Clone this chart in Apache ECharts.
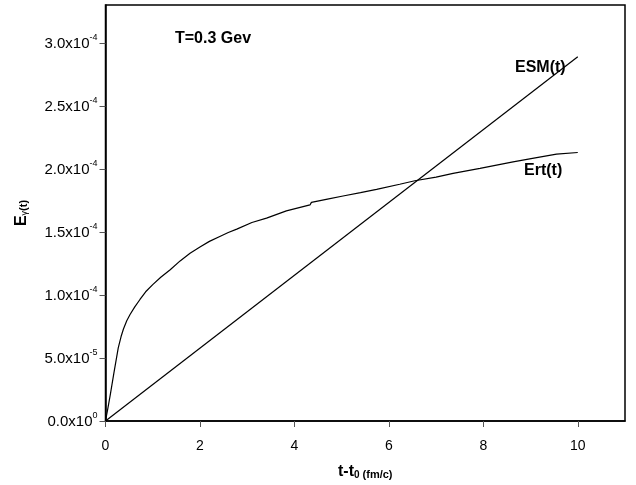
<!DOCTYPE html>
<html>
<head>
<meta charset="utf-8">
<script src="https://cdn.jsdelivr.net/npm/echarts@6/dist/echarts.min.js"></script>
<style>html,body{margin:0;padding:0;background:#fff;}#c{width:636px;height:485px;}</style>
</head>
<body>
<div id="c"></div>
<script>
// Data
const ertT = [0, 0.05, 0.1, 0.18, 0.27, 0.33, 0.38, 0.45, 0.52, 0.62, 0.73, 0.85, 1.0, 1.17, 1.37, 1.58, 1.79, 2.0, 2.2, 2.42, 2.6, 2.78, 2.8, 3.1, 3.41, 3.83, 4.33, 4.36, 4.7, 5.03, 5.4, 5.74, 6.23, 6.55, 7.0, 7.36, 7.93, 8.63, 9.1, 9.55, 10.0];
const ertV = [0, 1.0e-5, 2.05e-5, 3.85e-5, 5.8e-5, 6.7e-5, 7.3e-5, 7.95e-5, 8.45e-5, 9.05e-5, 9.64e-5, 1.025e-4, 1.082e-4, 1.14e-4, 1.2e-4, 1.27e-4, 1.33e-4, 1.38e-4, 1.425e-4, 1.464e-4, 1.495e-4, 1.522e-4, 1.535e-4, 1.575e-4, 1.609e-4, 1.667e-4, 1.714e-4, 1.734e-4, 1.76e-4, 1.785e-4, 1.812e-4, 1.838e-4, 1.878e-4, 1.906e-4, 1.935e-4, 1.965e-4, 2.004e-4, 2.056e-4, 2.088e-4, 2.117e-4, 2.13e-4];
const esmT = [0, 10];
const esmV = [0, 2.89e-4];
const xTicks = [0, 2, 4, 6, 8, 10];
const yTicks = [0, 5e-5, 1e-4, 1.5e-4, 2e-4, 2.5e-4, 3e-4];
const yTickMantissa = ['0.0', '5.0', '1.0', '1.5', '2.0', '2.5', '3.0'];
const yTickExponent = ['0', '-5', '-4', '-4', '-4', '-4', '-4'];

const FONT = '"Liberation Sans", Arial, sans-serif';
const chart = echarts.init(document.getElementById('c'), null, {renderer: 'canvas'});

function yLabel(v) {
  let best = 0, d = Infinity;
  yTicks.forEach((t, i) => { const dd = Math.abs(t - v); if (dd < d) { d = dd; best = i; } });
  return '{m|' + yTickMantissa[best] + 'x10}{e|' + yTickExponent[best] + '}';
}

chart.setOption({
  animation: false,
  backgroundColor: '#fff',
  grid: {left: 105.5, top: 5, right: 11, bottom: 63, show: true, borderColor: '#000', borderWidth: 1.5, backgroundColor: 'transparent'},
  xAxis: {
    type: 'value', min: 0, max: 11, interval: 1,
    name: '{a|t-t}{s|0}{b| (fm/c)}',
    nameLocation: 'middle', nameGap: 41,
    nameTextStyle: {
      fontFamily: FONT,
      rich: {
        a: {fontSize: 16, fontWeight: 'bold', fontFamily: FONT, color: '#000', verticalAlign: 'bottom', lineHeight: 18},
        s: {fontSize: 10, fontWeight: 'bold', fontFamily: FONT, color: '#000', verticalAlign: 'bottom', lineHeight: 14},
        b: {fontSize: 11, fontWeight: 'bold', fontFamily: FONT, color: '#000', verticalAlign: 'bottom', lineHeight: 16}
      }
    },
    axisLine: {show: true, onZero: false, lineStyle: {color: '#000', width: 1.5}},
    axisTick: {show: true, inside: false, length: 6, lineStyle: {color: '#555', width: 1}, customValues: xTicks},
    axisLabel: {show: true, margin: 18, fontSize: 14, color: '#000', fontFamily: FONT, customValues: xTicks},
    splitLine: {show: false}
  },
  yAxis: {
    type: 'value', min: 0, max: 3.3e-4, interval: 5e-5,
    name: '{a|E}{s|γ}{b|(t)}',
    nameLocation: 'middle', nameGap: 76, nameRotate: 90,
    nameTextStyle: {
      fontFamily: FONT,
      rich: {
        a: {fontSize: 16, fontWeight: 'bold', fontFamily: FONT, color: '#000', verticalAlign: 'bottom', lineHeight: 20},
        s: {fontSize: 9, fontFamily: FONT, color: '#000', verticalAlign: 'bottom', lineHeight: 12},
        b: {fontSize: 11, fontWeight: 'bold', fontFamily: FONT, color: '#000', verticalAlign: 'bottom', lineHeight: 20}
      }
    },
    axisLine: {show: true, onZero: false, lineStyle: {color: '#000', width: 1.5}},
    axisTick: {show: true, inside: false, length: 6, lineStyle: {color: '#555', width: 1}, customValues: yTicks},
    axisLabel: {
      show: true, margin: 8, customValues: yTicks,
      formatter: yLabel,
      rich: {
        m: {fontSize: 15, color: '#000', fontFamily: FONT, verticalAlign: 'bottom', lineHeight: 17},
        e: {fontSize: 9, color: '#000', fontFamily: FONT, verticalAlign: 'bottom', lineHeight: 10, padding: [0, 0, 9, 0]}
      }
    },
    splitLine: {show: false}
  },
  series: [
    {
      name: 'ESM(t)', type: 'line', showSymbol: false, symbol: 'none',
      data: esmT.map((t, i) => [t, esmV[i]]),
      lineStyle: {color: '#000', width: 1.2}
    },
    {
      name: 'Ert(t)', type: 'line', showSymbol: false, symbol: 'none', smooth: false,
      data: ertT.map((t, i) => [t, ertV[i]]),
      lineStyle: {color: '#000', width: 1.2}
    }
  ],
  graphic: [
    {type: 'text', left: 175, top: 31, style: {text: 'T=0.3 Gev', font: 'bold 16px ' + FONT, fill: '#000'}},
    {type: 'text', left: 515, top: 60, style: {text: 'ESM(t)', font: 'bold 16px ' + FONT, fill: '#000'}},
    {type: 'text', left: 524, top: 163, style: {text: 'Ert(t)', font: 'bold 16px ' + FONT, fill: '#000'}}
  ]
});
</script>
</body>
</html>
